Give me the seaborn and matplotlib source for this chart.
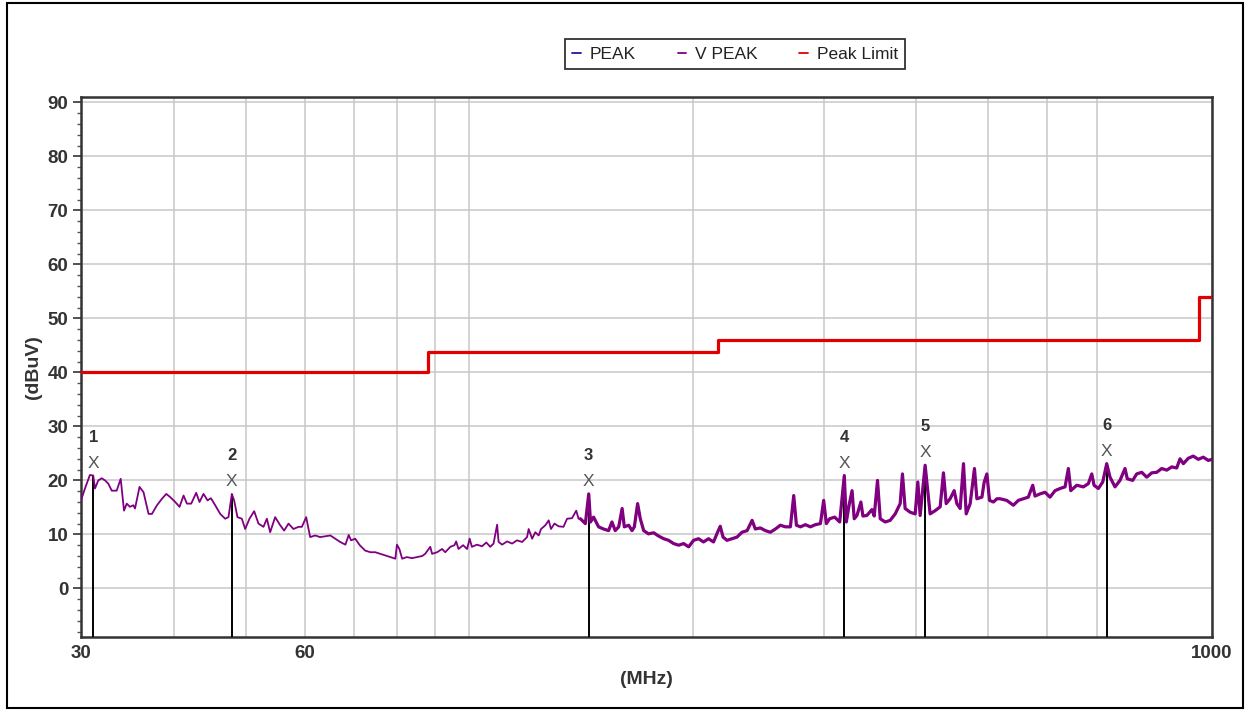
import matplotlib
matplotlib.use("Agg")
import matplotlib.pyplot as plt
import seaborn as sns
import pandas as pd
from matplotlib.lines import Line2D
from matplotlib.patches import Rectangle
from matplotlib.ticker import FixedLocator, MultipleLocator, NullFormatter

# ---------------- data ----------------
freq_mhz = [
    30.0, 30.37, 30.84, 31.16, 31.33, 31.65, 31.99, 32.32, 32.65, 33.00, 33.51, 33.93,
    34.28, 34.57, 34.92, 35.28, 35.47, 35.97, 36.42, 36.99, 37.38, 37.97, 38.56, 39.08,
    39.56, 40.18, 40.72, 41.23, 41.66, 42.22, 42.88, 43.32, 43.86, 44.41, 44.88, 45.48,
    46.19, 46.91, 47.39, 47.89, 48.23, 48.73, 49.40, 49.91, 50.58, 51.32, 52.01, 52.82,
    53.38, 53.93, 54.77, 55.63, 56.32, 57.08, 57.97, 58.88, 59.50, 60.30, 61.05, 62.00,
    62.97, 64.29,
    65.0, 66.0, 67.0, 68.1, 68.8, 69.3, 70.2, 71.2, 72.4, 73.6, 74.7, 75.9, 77.1, 78.3,
    79.5, 79.9, 80.5, 81.2, 82.4, 83.7, 85.0, 86.4, 87.2, 88.6, 89.1, 90.5, 91.9, 92.8,
    94.3, 95.5, 96.0, 96.7, 98.1, 99.3, 100.1, 100.8, 102.4, 104.0, 105.4, 106.7, 107.8,
    109.0, 109.5, 110.7, 112.4, 114.2, 115.9, 117.8, 119.6, 120.2, 121.5, 122.7, 124.0,
    124.9, 126.6, 127.9, 128.8, 130.2, 131.9, 133.9, 135.4, 137.5, 139.3, 140.3,
    141.1, 143.3, 144.8, 145.6, 147.0, 149.3, 151.6, 154.0, 155.6, 157.2, 158.9, 160.6,
    161.7, 163.9, 165.6, 166.8, 168.5, 169.9, 171.7, 174.3, 177.1, 179.8, 182.7, 185.5,
    188.4, 191.4, 194.3, 197.4, 200.4, 203.5, 206.7, 209.9, 213.2, 215.9, 217.7, 219.6,
    222.3, 225.8, 229.3, 232.9, 236.6, 240.3, 242.7, 246.5, 250.4, 254.3, 258.3, 262.3,
    266.4, 270.6, 273.4, 275.7, 279.1, 283.5, 287.9, 292.4, 297.0, 300.0, 302.5,
    305.6, 310.4, 315.3, 319.8, 321.8, 324.6, 327.6, 329.8, 332.6, 336.7, 338.8, 343.0,
    348.4, 350.9, 354.5, 357.5, 363.0, 368.7, 374.5, 380.3, 383.0, 386.2, 392.3, 398.4,
    401.7, 404.6, 410.9, 413.9, 417.3, 423.9, 430.5, 434.9, 438.6, 444.0, 449.6, 453.4,
    458.0, 462.8, 466.7, 472.5, 478.8, 482.4, 490.0, 493.5, 497.6, 501.7, 507.9, 513.3,
    518.3, 529.2, 540.2, 548.6, 557.1, 565.8, 573.6, 577.7, 586.7, 595.9, 605.2, 614.7,
    624.3, 634.1, 640.6, 645.4, 657.5, 671.1, 681.6, 688.8, 693.7, 703.0, 712.6, 721.5,
    728.9, 740.3, 751.8, 763.6, 769.0, 782.0, 791.8, 804.2, 816.8, 829.6, 842.5, 855.7,
    869.1, 882.6, 896.4, 905.6, 915.1, 929.1, 943.7, 958.4, 973.4, 988.6, 1000.0,
]
level_dbuv = [
    16.3, 18.5, 21.0, 20.9, 18.5, 20.0, 20.4, 20.0, 19.4, 18.1, 18.1, 20.3,
    14.4, 15.7, 15.1, 15.4, 14.8, 18.8, 17.8, 13.8, 13.8, 15.4, 16.6, 17.5,
    16.9, 16.0, 15.1, 17.2, 15.7, 15.7, 17.7, 16.0, 17.5, 16.3, 16.7, 15.4,
    13.8, 12.9, 13.2, 17.5, 16.3, 13.2, 12.9, 11.0, 12.9, 14.3, 12.0, 11.4,
    12.9, 10.4, 13.2, 11.7, 10.7, 12.0, 11.0, 11.4, 11.4, 13.2, 9.5, 9.8,
    9.5, 9.7,
    9.8, 9.2, 8.6, 8.1, 9.9, 8.9, 9.2, 8.0, 7.0, 6.7, 6.7, 6.4, 6.1, 5.8,
    5.5, 8.1, 7.3, 5.5, 5.8, 5.6, 5.8, 6.0, 6.4, 7.7, 6.4, 6.7, 7.3, 6.7,
    7.7, 8.0, 8.7, 7.3, 8.0, 7.3, 9.2, 7.7, 8.1, 7.8, 8.5, 7.7, 8.3,
    11.8, 8.6, 8.1, 8.7, 8.3, 8.9, 8.6, 9.5, 11.0, 9.2, 10.4, 9.8,
    11.0, 11.7, 12.6, 11.0, 12.0, 11.5, 11.4, 12.9, 13.0, 14.4, 12.9,
    12.9, 12.0, 17.5, 12.3, 13.2, 11.4, 11.0, 10.7, 12.3, 10.7, 11.4, 14.8,
    11.4, 11.7, 10.7, 11.4, 15.7, 12.9, 10.7, 10.1, 10.3, 9.7, 9.2, 8.9,
    8.3, 8.0, 8.3, 7.7, 8.9, 9.2, 8.6, 9.2, 8.6, 10.4, 11.5, 9.5,
    8.9, 9.2, 9.5, 10.4, 10.7, 12.6, 11.0, 11.2, 10.7, 10.4, 11.0, 11.7,
    11.4, 11.4, 17.2, 11.7, 11.4, 11.8, 11.4, 11.8, 12.0, 16.3, 12.0,
    12.9, 13.2, 12.3, 20.9, 12.3, 15.4, 18.1, 12.9, 13.5, 16.0, 13.4, 13.5,
    14.6, 13.4, 20.0, 12.9, 12.3, 12.6, 13.8, 15.7, 21.2, 14.8, 14.1, 13.8,
    19.7, 13.5, 22.8, 18.5, 13.8, 14.4, 15.1, 21.4, 15.7, 16.6, 18.1, 15.7,
    14.8, 23.1, 13.8, 15.7, 22.2, 16.6, 16.9, 19.7, 21.2, 16.3, 16.0, 16.6,
    16.6, 16.3, 15.4, 16.3, 16.6, 16.9, 19.1, 17.1, 17.5, 17.8, 16.9, 18.1,
    18.5, 18.8, 22.2, 18.1, 19.1, 18.8, 19.4, 21.2, 19.1, 18.5, 19.7, 23.1,
    20.6, 18.8, 20.0, 22.2, 20.3, 20.0, 21.2, 21.5, 20.6, 21.4, 21.5, 22.2,
    21.9, 22.5, 22.3, 24.0, 23.1, 24.1, 24.5, 23.9, 24.3, 23.7, 23.9,
]

limit_freq = [30, 88, 216, 960, 1000]
limit_level = [40, 43.8, 46, 54, 54]

marker_ids = ["1", "2", "3", "4", "5", "6"]
marker_freq = [31.16, 47.89, 144.8, 319.8, 410.9, 721.5]
marker_level = [20.9, 17.5, 17.5, 20.9, 22.8, 23.1]

x_tick_values = [30, 60, 1000]
x_tick_labels = ["30", "60", "1000"]
x_grid_values = [40, 50, 70, 80, 90, 100, 200, 300, 400, 500, 600, 700]
y_tick_values = [0, 10, 20, 30, 40, 50, 60, 70, 80, 90]

legend_labels = ["PEAK", "V PEAK", "Peak Limit"]

# ---------------- styling ----------------
sns.set_theme(style="white")
plt.rcParams["font.family"] = ["Liberation Sans", "DejaVu Sans"]

W, H = 1245, 710
fig = plt.figure(figsize=(W / 100, H / 100), dpi=100)
fig.patch.set_facecolor("white")
ax = fig.add_axes([81 / W, 1 - 637 / H, (1212 - 81) / W, (637 - 97) / H])
ax.set_facecolor("white")

PURPLE = "#800080"
RED = "#e00000"
BLUE = "#1a1a9a"

trace = pd.DataFrame({"freq": freq_mhz, "level": level_dbuv})
dense = trace[trace["freq"] >= 141]
limit = pd.DataFrame({"freq": limit_freq, "level": limit_level})

sns.lineplot(data=trace, x="freq", y="level", ax=ax, color=PURPLE, lw=1.3,
             estimator=None, sort=False, zorder=4)
# the upper band of the sweep is densely sampled -> looks thicker
sns.lineplot(data=dense, x="freq", y="level", ax=ax, color=PURPLE, lw=2.3,
             estimator=None, sort=False, zorder=4)
sns.lineplot(data=limit, x="freq", y="level", ax=ax, color=RED, lw=2.3,
             estimator=None, sort=False, drawstyle="steps-post", zorder=4)

ax.set_xscale("log")
ax.set_xlim(30, 1000)
ax.set_ylim(-9, 91)

# marker lines, crosses, numbers
ymin = ax.get_ylim()[0]
ax.vlines(marker_freq, ymin, marker_level, color="black", lw=1.4, zorder=3)
for mid, f, lv in zip(marker_ids, marker_freq, marker_level):
    ax.text(f, lv + 2.3, "X", ha="center", va="center", fontsize=12.5,
            color="#555555", zorder=5)
    ax.text(f, lv + 7.1, mid, ha="center", va="center", fontsize=12,
            fontweight="bold", color="#333333", zorder=5)

# ticks and grid
ax.xaxis.set_major_locator(FixedLocator(x_tick_values))
ax.xaxis.set_minor_locator(FixedLocator(x_grid_values))
ax.set_xticklabels(x_tick_labels)
ax.xaxis.set_minor_formatter(NullFormatter())
ax.yaxis.set_major_locator(FixedLocator(y_tick_values))
ax.yaxis.set_minor_locator(MultipleLocator(2))

ax.grid(True, which="major", axis="both", color="#c8c8c8", lw=1.1, zorder=0)
ax.grid(True, which="minor", axis="x", color="#c8c8c8", lw=1.1, zorder=0)
ax.set_axisbelow(True)

ax.tick_params(axis="x", which="both", length=0, pad=6, labelsize=13.5, colors="#333333")
ax.tick_params(axis="y", which="major", left=True, length=6, width=1.2, pad=3,
               labelsize=13.5, colors="#333333", direction="out")
ax.tick_params(axis="y", which="minor", left=True, length=3, width=1.0,
               color="#555555", direction="out")
for lab in ax.get_xticklabels() + ax.get_yticklabels():
    lab.set_fontweight("bold")

for s in ax.spines.values():
    s.set_visible(True)
    s.set_color("#333333")
    s.set_linewidth(1.8)

ax.set_xlabel("(MHz)", fontsize=14, fontweight="bold", color="#333333", labelpad=6)
ax.set_ylabel("(dBuV)", fontsize=14, fontweight="bold", color="#333333", labelpad=4)

# legend
handles = [Line2D([0], [0], color=BLUE, lw=1.3),
           Line2D([0], [0], color=PURPLE, lw=1.3),
           Line2D([0], [0], color=RED, lw=1.3)]
leg = fig.legend(handles, legend_labels, loc="center",
                 bbox_to_anchor=(735 / W, 1 - 54 / H), ncol=3, frameon=True,
                 fancybox=False, edgecolor="black", fontsize=12.5,
                 handlelength=0.5, handletextpad=0.5, columnspacing=2.4,
                 borderpad=0.45)
leg.get_frame().set_linewidth(1.3)
for t in leg.get_texts():
    t.set_color("#222222")

# outer frame
fig.add_artist(Rectangle((7 / W, 2 / H), (1243 - 7) / W, (707 - 2) / H,
                         transform=fig.transFigure, fill=False, lw=1.5,
                         ec="black"))

fig.savefig("out.png", dpi=100)
